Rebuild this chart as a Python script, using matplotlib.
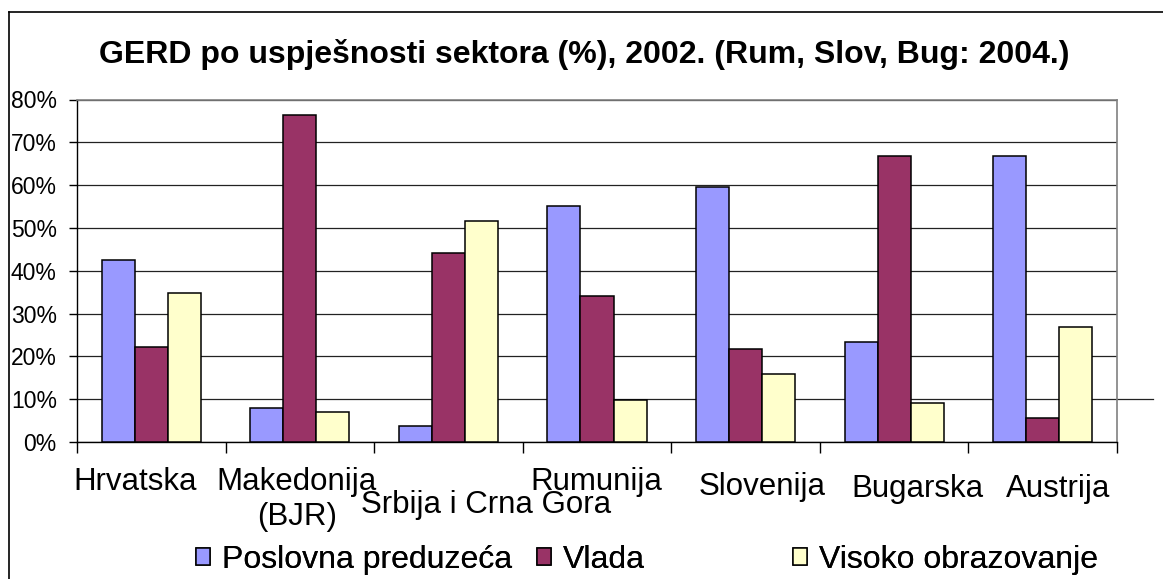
import matplotlib
matplotlib.use("Agg")
import matplotlib.pyplot as plt
import numpy as np
from matplotlib.lines import Line2D
from matplotlib.patches import Patch
from matplotlib.transforms import ScaledTranslation

plt.rcParams['font.family'] = ['Liberation Sans', 'DejaVu Sans']

# podaci (%)
categories = ["Hrvatska", "Makedonija\n(BJR)", "Srbija i Crna Gora", "Rumunija",
              "Slovenija", "Bugarska", "Austrija"]
poslovna = [42.4, 7.9, 3.8, 55.2, 59.6, 23.4, 66.8]
vlada = [22.2, 76.4, 44.1, 34.1, 21.8, 66.8, 5.5]
visoko = [34.9, 7.1, 51.7, 9.8, 15.9, 9.2, 26.9]
series_names = ["Poslovna preduzeća", "Vlada", "Visoko obrazovanje"]
yticks = [0, 10, 20, 30, 40, 50, 60, 70, 80]

colors = ["#9999FF", "#993366", "#FFFFCC"]
# pomaci natpisa kategorija (px) kao u originalu
label_dx = [-16, -3, 38, -1, 17, 23, 15]
label_dy = [0, 0, 23, 0, 5, 7, 7]

W, H, DPI = 1163, 579, 100
fig = plt.figure(figsize=(W / DPI, H / DPI), dpi=DPI)
ax = fig.add_axes([77 / W, 1 - 442 / H, 1040 / W, (442 - 99.5) / H])

n = len(categories)
x = np.arange(n) + 0.5
bw = 2 / 9
for k, vals in enumerate([poslovna, vlada, visoko]):
    ax.bar(x + (k - 1) * bw, vals, width=bw, color=colors[k],
           edgecolor="black", linewidth=1.1, zorder=3)

ax.set_xlim(0, n)
ax.set_ylim(0, 80)
ax.set_yticks(yticks)
ax.set_yticklabels([f"{v}%" for v in yticks], fontsize=16.5)
ax.yaxis.grid(True, color="#222222", linewidth=0.9, zorder=0)
ax.tick_params(axis="y", direction="out", length=6, width=1, pad=8.5)

ax.set_xticks(np.arange(n + 1))
ax.set_xticklabels([])
ax.tick_params(axis="x", which="major", direction="out", length=8, width=1)
ax.set_xticks(x, minor=True)
ax.set_xticklabels(categories, minor=True, fontsize=22.5, va="top",
                   multialignment="center")
ax.tick_params(axis="x", which="minor", length=0, pad=18)
for lab, dx, dy in zip(ax.get_xticklabels(minor=True), label_dx, label_dy):
    lab.set_transform(lab.get_transform() +
                      ScaledTranslation(dx / DPI, -dy / DPI, fig.dpi_scale_trans))

for side in ["top", "right"]:
    ax.spines[side].set_color("#808080")
    ax.spines[side].set_linewidth(1.2)
for side in ["left", "bottom"]:
    ax.spines[side].set_color("black")
    ax.spines[side].set_linewidth(1)

# gridline na 10% produzena desno
ax.axhline(yticks[1], xmin=1, xmax=1 + 36 / 1040, color="#222222",
           linewidth=0.9, clip_on=False)

fig.text(0.502, 1 - 63 / H,
         "GERD po uspješnosti sektora (%), 2002. (Rum, Slov, Bug: 2004.)",
         ha="center", va="baseline", fontsize=23, fontweight="bold")

# okvir slike
fig.add_artist(Line2D([9 / W, 9 / W], [0, 1 - 12 / H], color="black", linewidth=1.2))
fig.add_artist(Line2D([9 / W, 1], [1 - 12 / H, 1 - 12 / H], color="black", linewidth=1.2))

# legenda
leg_x = [196, 537, 793]
for name, c, lx in zip(series_names, colors, leg_x):
    lg = fig.legend(handles=[Patch(facecolor=c, edgecolor="black", linewidth=1.1)],
                    labels=[name], loc="center left",
                    bbox_to_anchor=(lx / W, 1 - 560 / H), frameon=False,
                    fontsize=23, handlelength=0.45, handleheight=0.45,
                    handletextpad=0.35, borderpad=0, borderaxespad=0)
    fig.add_artist(lg)

fig.savefig("out.png", dpi=DPI, facecolor="white")
